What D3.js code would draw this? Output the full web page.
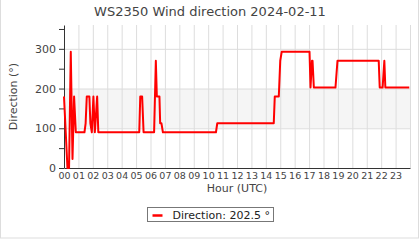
<!DOCTYPE html>
<html>
<head>
<meta charset="utf-8">
<script src="https://cdn.jsdelivr.net/npm/d3@7"></script>
<style>
  body { margin: 0; background: #fff; }
  svg { font-family: "DejaVu Sans", sans-serif; }
</style>
</head>
<body>
<div id="chart"></div>
<script>
// hour of day (UTC) and wind direction in degrees
var hours = [0.0, 0.12, 0.24, 0.35, 0.47, 0.59, 0.7, 0.82, 1.42, 1.5, 1.58, 1.76, 1.83, 1.93,
             2.04, 2.14, 2.3, 2.38, 5.22, 5.29, 5.42, 5.52, 6.25, 6.37, 6.44, 6.62, 6.67, 6.76, 6.86,
             10.54, 10.63, 14.55, 14.62, 14.9, 15.0, 15.1, 17.03, 17.1, 17.2, 17.24, 17.33,
             18.83, 18.97, 21.83, 21.9, 22.1, 22.22, 22.29, 23.95];
var directions = [180, 90, 0, 0, 292.5, 22.5, 180, 90, 90, 112.5, 180, 180, 112.5, 90,
                  180, 90, 180, 90, 90, 180, 180, 90, 90, 270, 180, 180, 112.5, 112.5, 90,
                  90, 112.5, 112.5, 180, 180, 270, 292.5, 292.5, 202.5, 270, 270, 202.5,
                  202.5, 270, 270, 202.5, 202.5, 270, 202.5, 202.5];
var hourLabels = ["00","01","02","03","04","05","06","07","08","09","10","11",
                  "12","13","14","15","16","17","18","19","20","21","22","23"];
var yLabels = [0, 100, 200, 300];
var lastValue = 202.5;

var data = hours.map(function(h, i) { return {hour: h, dir: directions[i]}; });

var width = 420, height = 240;
var margin = {top: 25, right: 10, bottom: 72, left: 64};
var w = width - margin.left - margin.right,
    h = height - margin.top - margin.bottom;

var svg = d3.select("#chart").append("svg")
  .attr("width", width)
  .attr("height", height);

// outer frame
svg.append("rect")
  .attr("x", 0.5).attr("y", -0.5)
  .attr("width", 418).attr("height", 238.5)
  .attr("fill", "none").attr("stroke", "#ddd");

var g = svg.append("g")
  .attr("transform", "translate(" + margin.left + "," + margin.top + ")");

var x = d3.scaleLinear().domain([0, 24]).range([0, w]);
var y = d3.scaleLinear().domain([0, 360]).range([h, 0]);

// shaded band between 100 and 200
g.append("rect")
  .attr("x", 0).attr("y", y(200))
  .attr("width", w).attr("height", y(100) - y(200))
  .attr("fill", "#f5f5f5");

// vertical gridlines
g.append("g")
  .attr("transform", "translate(0," + h + ")")
  .call(d3.axisBottom(x).tickValues(d3.range(1, 25)).tickSize(-h).tickFormat(""))
  .call(function(s) { s.select(".domain").remove(); })
  .selectAll("line").attr("stroke", "#ddd");

// horizontal gridlines
g.append("g")
  .call(d3.axisLeft(y).tickValues([100, 200, 300]).tickSize(-w).tickFormat(""))
  .call(function(s) { s.select(".domain").remove(); })
  .selectAll("line").attr("stroke", "#ddd");

// y axis
var yAxis = g.append("g")
  .call(d3.axisLeft(y).tickValues(d3.range(0, 351, 50)).tickSize(5).tickSizeOuter(0)
    .tickFormat(function(d) { return yLabels.indexOf(d) >= 0 ? d : ""; }));
yAxis.select(".domain").attr("stroke", "#333");
yAxis.selectAll("line").attr("stroke", "#333");
yAxis.selectAll("text").attr("fill", "#444").style("font-size", "11px")
  .style("font-family", "DejaVu Sans");

// x axis
var xAxis = g.append("g")
  .attr("transform", "translate(0," + h + ")")
  .call(d3.axisBottom(x).tickValues(d3.range(0, 24)).tickSize(0).tickPadding(4)
    .tickFormat(function(d) { return hourLabels[d]; }));
xAxis.select(".domain").attr("stroke", "#333");
xAxis.selectAll("text").attr("fill", "#444").style("font-size", "9.5px")
  .style("font-family", "DejaVu Sans");

// line
g.append("path")
  .datum(data)
  .attr("fill", "none")
  .attr("stroke", "#ff0000")
  .attr("stroke-width", 2)
  .attr("stroke-linejoin", "round")
  .attr("d", d3.line()
    .x(function(d) { return x(d.hour); })
    .y(function(d) { return y(d.dir); }));

// title
svg.append("text")
  .attr("x", width / 2).attr("y", 16)
  .attr("text-anchor", "middle")
  .attr("fill", "#444")
  .style("font-size", "13px")
  .text("WS2350 Wind direction 2024-02-11");

// axis titles
svg.append("text")
  .attr("transform", "translate(17," + (margin.top + h / 2) + ") rotate(-90)")
  .attr("text-anchor", "middle")
  .attr("fill", "#444")
  .style("font-size", "11px")
  .text("Direction (°)");

svg.append("text")
  .attr("x", margin.left + w / 2).attr("y", 192)
  .attr("text-anchor", "middle")
  .attr("fill", "#444")
  .style("font-size", "11px")
  .text("Hour (UTC)");

// legend
var legend = svg.append("g").attr("transform", "translate(147.5,207.5)");
legend.append("rect")
  .attr("width", 126).attr("height", 14)
  .attr("fill", "#fff").attr("stroke", "#777");
legend.append("line")
  .attr("x1", 5).attr("x2", 15).attr("y1", 8).attr("y2", 8)
  .attr("stroke", "#ff0000").attr("stroke-width", 2.5);
legend.append("text")
  .attr("x", 25).attr("y", 11)
  .attr("fill", "#222")
  .style("font-size", "11px")
  .text("Direction: " + lastValue + " °");
</script>
</body>
</html>
